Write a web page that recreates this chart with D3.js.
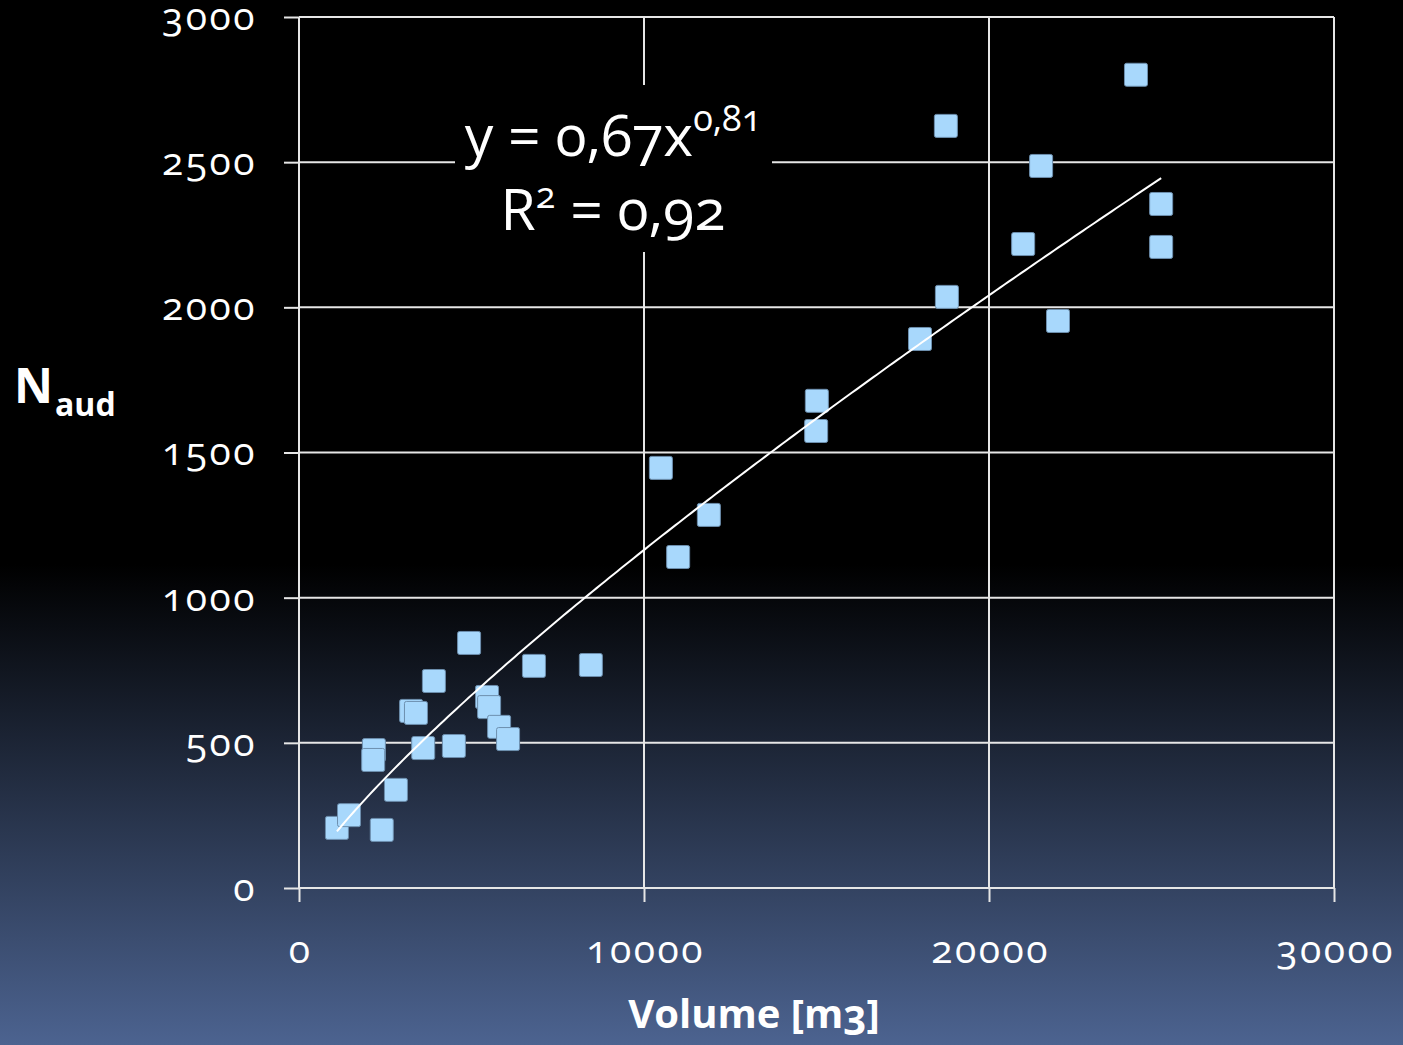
<!DOCTYPE html>
<html>
<head>
<meta charset="utf-8">
<script src="https://cdn.jsdelivr.net/npm/d3@7"></script>
<style>
  html, body { margin: 0; padding: 0; background: #000; }
  svg text { font-family: "Open Sans", "Lato", sans-serif; font-feature-settings: "onum" 1; fill: #fff; }
</style>
</head>
<body>
<div id="chart"></div>
<script>
// data
var volume = [1100, 1450, 2400, 2170, 2150, 2810, 3250, 3390, 3600, 3910, 4490, 4930,
  5450, 5510, 5800, 6060, 6810, 8460, 10490, 10990, 11880, 15010, 14990, 18000,
  18750, 18780, 20990, 21510, 22000, 24260, 24990, 24990]
var naud = [207, 251, 200, 475, 441, 338, 610, 603, 482, 713, 489, 844,
  658, 623, 555, 513, 765, 768, 1447, 1140, 1285, 1678, 1574, 1891,
  2625, 2036, 2218, 2487, 1953, 2801, 2356, 2208]
var xTicks = [0, 10000, 20000, 30000]
var yTicks = [0, 500, 1000, 1500, 2000, 2500, 3000]
// power trend line y = a * x^b
var fitA = 0.67
var fitB = 0.81

var svgWidth = 1403
var svgHeight = 1045
var margin = { top: 17, right: 69, bottom: 157, left: 299 }
var width = svgWidth - margin.left - margin.right
var height = svgHeight - margin.top - margin.bottom

var svg = d3.select("#chart")
  .append("svg")
  .attr("width", svgWidth)
  .attr("height", svgHeight)

// background gradient
var defs = svg.append("defs")
var grad = defs.append("linearGradient")
  .attr("id", "bg").attr("x1", 0).attr("y1", 0).attr("x2", 0).attr("y2", 1)
grad.append("stop").attr("offset", "0%").attr("stop-color", "#000")
grad.append("stop").attr("offset", "54%").attr("stop-color", "#000")
grad.append("stop").attr("offset", "100%").attr("stop-color", "#4c6390")
svg.append("rect").attr("width", svgWidth).attr("height", svgHeight).attr("fill", "url(#bg)")

var chartGroup = svg.append("g")
  .attr("transform", `translate(${margin.left}, ${margin.top})`)

var xScale = d3.scaleLinear().domain([0, 30000]).range([0, width])
var yScale = d3.scaleLinear().domain([0, 3000]).range([height, 0])

// grid lines
chartGroup.append("g")
  .selectAll("line.hgrid")
  .data(yTicks.slice(1))
  .enter()
  .append("line")
  .attr("x1", 0).attr("x2", width)
  .attr("y1", d => yScale(d)).attr("y2", d => yScale(d))
  .attr("stroke", "#e6e6e6").attr("stroke-width", 2)

chartGroup.append("g")
  .selectAll("line.vgrid")
  .data(xTicks.slice(1))
  .enter()
  .append("line")
  .attr("y1", 0).attr("y2", height)
  .attr("x1", d => xScale(d)).attr("x2", d => xScale(d))
  .attr("stroke", "#e6e6e6").attr("stroke-width", 2)

// axes
var bottomAxis = d3.axisBottom(xScale).tickValues(xTicks).tickSize(14).tickPadding(33).tickFormat(d3.format("d"))
var leftAxis = d3.axisLeft(yScale).tickValues(yTicks).tickSize(15).tickPadding(30).tickFormat(d3.format("d"))

var xAxisG = chartGroup.append("g")
  .attr("transform", `translate(0, ${height})`)
  .call(bottomAxis)
var yAxisG = chartGroup.append("g").call(leftAxis)

;[xAxisG, yAxisG].forEach(function(g) {
  g.select(".domain").attr("stroke", "#e6e6e6").attr("stroke-width", 2)
  g.selectAll(".tick line").attr("stroke", "#e6e6e6").attr("stroke-width", 2)
  g.selectAll(".tick text").attr("fill", "#fff")
    .style("font-size", "39px").style("letter-spacing", "2.5px")
})
xAxisG.selectAll(".tick text").attr("dx", "1px")
yAxisG.selectAll(".tick text").attr("dx", "3px")
xAxisG.select(".domain").attr("d", `M0,0H${width}`)
yAxisG.select(".domain").attr("d", `M0,${height}V0`)

// points
var pts = volume.map((v, i) => ({ v: v, n: naud[i] }))
chartGroup.append("g")
  .selectAll("rect")
  .data(pts)
  .enter()
  .append("rect")
  .attr("x", d => xScale(d.v) - 11.5)
  .attr("y", d => yScale(d.n) - 11.5)
  .attr("width", 23).attr("height", 23)
  .attr("rx", 2)
  .attr("fill", "#a8d8fc")
  .attr("stroke", "#6d8fae")
  .attr("stroke-width", 1)

// trend line, on top of the points
var fitPts = d3.range(0, 201).map(function(i) {
  var x = d3.min(volume) + (d3.max(volume) - d3.min(volume)) * i / 200
  return [x, fitA * Math.pow(x, fitB)]
})
chartGroup.append("path")
  .datum(fitPts)
  .attr("fill", "none")
  .attr("stroke", "#fff")
  .attr("stroke-width", 2)
  .attr("d", d3.line().x(d => xScale(d[0])).y(d => yScale(d[1])))

// equation label
var eq = svg.append("g")
eq.append("rect").attr("x", 455).attr("y", 85).attr("width", 317).attr("height", 167).attr("fill", "#000")
var t1 = eq.append("text").attr("x", 613).attr("y", 156).attr("text-anchor", "middle").style("font-size", "57px")
t1.append("tspan").text("y = 0,67x")
t1.append("tspan").attr("dy", -25).style("font-size", "36px").text("0,81")
var t2 = eq.append("text").attr("x", 613).attr("y", 230).attr("text-anchor", "middle").style("font-size", "57px")
t2.append("tspan").text("R")
t2.append("tspan").attr("dy", -22).style("font-size", "36px").text("2")
t2.append("tspan").attr("dy", 22).text(" = 0,92")

// axis titles
svg.append("text")
  .attr("x", 754).attr("y", 1028)
  .attr("text-anchor", "middle")
  .style("font-size", "40px").style("font-weight", "bold")
  .text("Volume [m3]")

var yt = svg.append("text").attr("x", 14).attr("y", 403).style("font-weight", "bold")
yt.append("tspan").style("font-size", "48px").text("N")
yt.append("tspan").attr("dx", 2).attr("dy", 13).style("font-size", "32px").text("aud")
</script>
</body>
</html>
